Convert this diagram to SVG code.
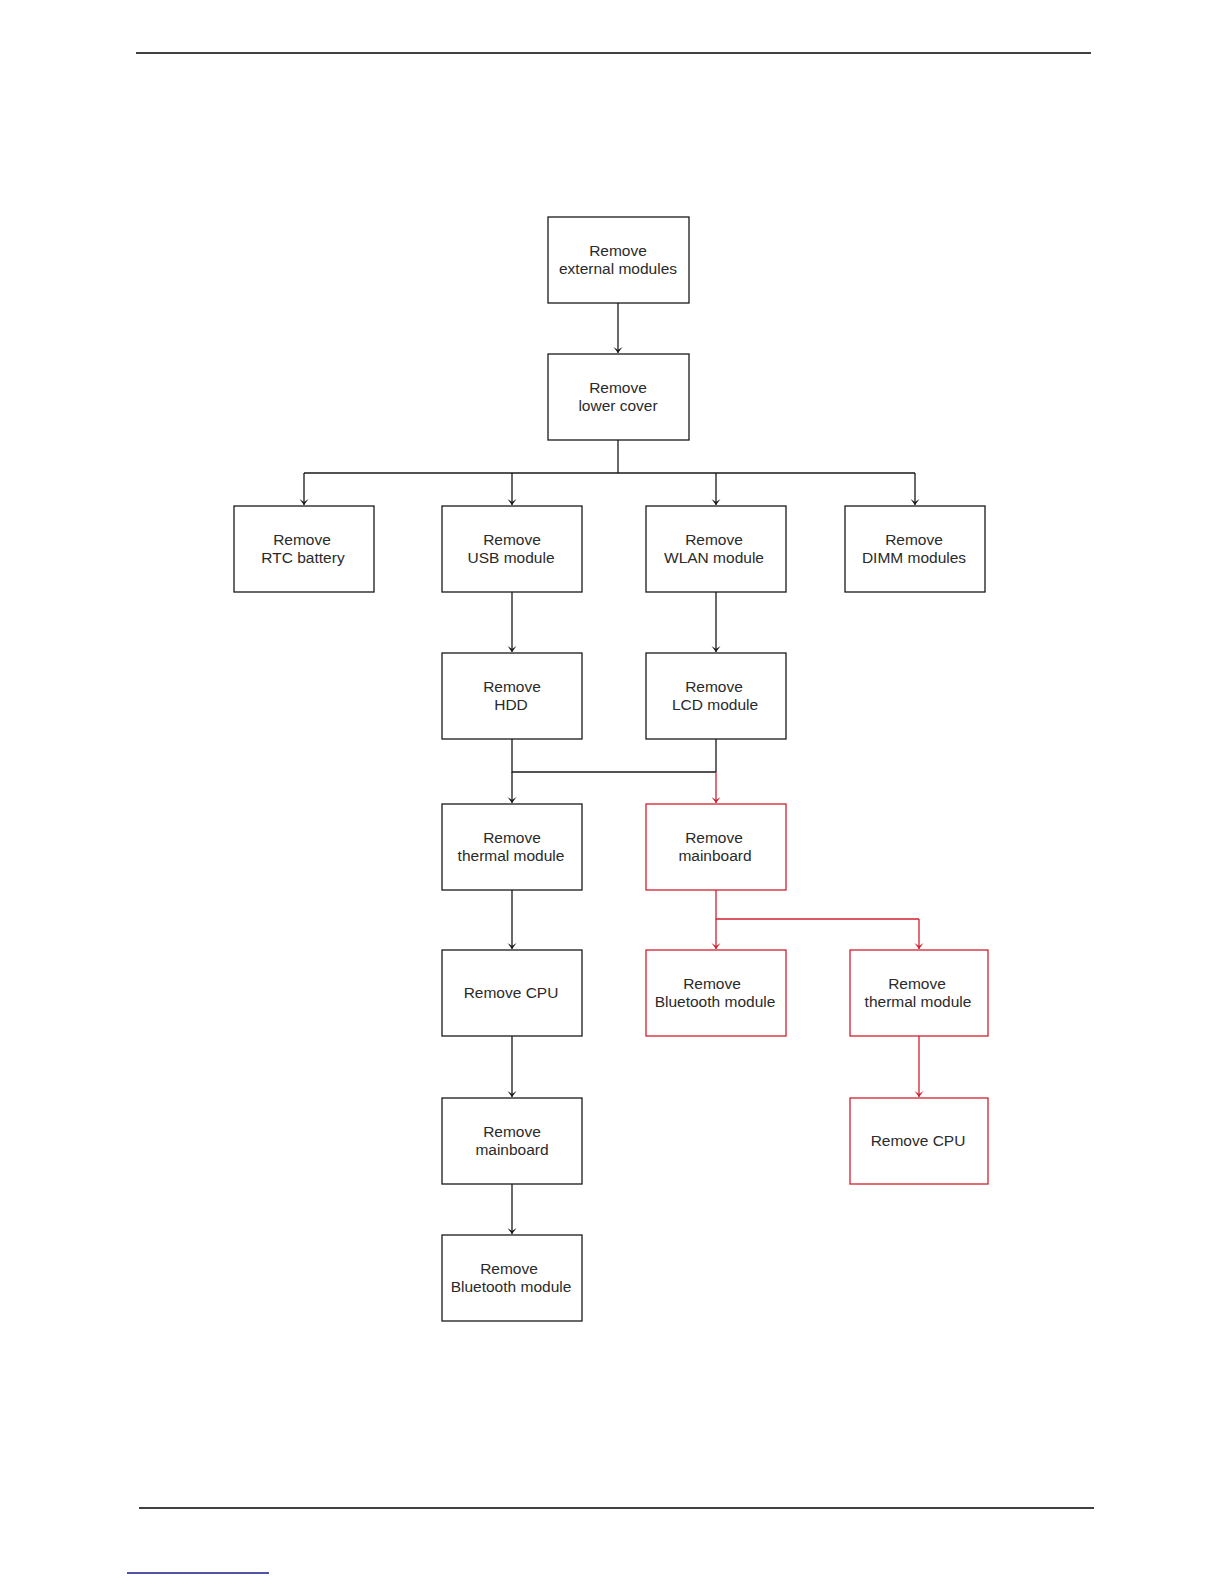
<svg xmlns="http://www.w3.org/2000/svg" width="1224" height="1584" viewBox="0 0 1224 1584">
<style>
.box{fill:#fff;stroke:#1a1a1a;stroke-width:1.3}
.red .box{stroke:#d2202f}
text{font-family:"Liberation Sans",Arial,sans-serif;font-size:15.5px;fill:#2a2a2a;text-anchor:middle}
.c{fill:none;stroke:#1a1a1a;stroke-width:1.3}
.cr{fill:none;stroke:#d2202f;stroke-width:1.3}
</style>
<defs>
<marker id="a" markerWidth="10" markerHeight="10" refX="5" refY="8" orient="0" markerUnits="userSpaceOnUse">
<path d="M0.5,2 L5,8 L9.5,2 L5,5 Z" fill="#1a1a1a"/>
</marker>
<marker id="ar" markerWidth="10" markerHeight="10" refX="5" refY="8" orient="0" markerUnits="userSpaceOnUse">
<path d="M0.5,2 L5,8 L9.5,2 L5,5 Z" fill="#d2202f"/>
</marker>
</defs>
<rect width="1224" height="1584" fill="#fff"/>
<line x1="136" y1="53" x2="1091" y2="53" stroke="#000" stroke-width="1.5"/>
<line x1="139" y1="1508" x2="1094" y2="1508" stroke="#000" stroke-width="1.5"/>
<line x1="127" y1="1573" x2="269" y2="1573" stroke="#1a1a8c" stroke-width="1.3"/>

<g id="connectors">
<path class="c" d="M618,303 V353" marker-end="url(#a)"/>
<path class="c" d="M618,440 V473 M304,473 H915"/>
<path class="c" d="M304,473 V505" marker-end="url(#a)"/>
<path class="c" d="M512,473 V505" marker-end="url(#a)"/>
<path class="c" d="M716,473 V505" marker-end="url(#a)"/>
<path class="c" d="M915,473 V505" marker-end="url(#a)"/>
<path class="c" d="M512,592 V652" marker-end="url(#a)"/>
<path class="c" d="M716,592 V652" marker-end="url(#a)"/>
<path class="c" d="M512,739 V772 H716 M716,739 V772"/>
<path class="c" d="M512,772 V803" marker-end="url(#a)"/>
<path class="cr" d="M716,772 V803" marker-end="url(#ar)"/>
<path class="c" d="M512,890 V949" marker-end="url(#a)"/>
<path class="c" d="M512,1036 V1097" marker-end="url(#a)"/>
<path class="c" d="M512,1184 V1234" marker-end="url(#a)"/>
<path class="cr" d="M716,890 V919 H919"/>
<path class="cr" d="M716,919 V949" marker-end="url(#ar)"/>
<path class="cr" d="M919,919 V949" marker-end="url(#ar)"/>
<path class="cr" d="M919,1036 V1097" marker-end="url(#ar)"/>
</g>

<g id="n_external"><rect class="box" x="548" y="217" width="141" height="86"/><text x="618" y="256">Remove</text><text x="618" y="274">external modules</text></g>
<g id="n_lower"><rect class="box" x="548" y="354" width="141" height="86"/><text x="618" y="393">Remove</text><text x="618" y="411">lower cover</text></g>
<g id="n_rtc"><rect class="box" x="234" y="506" width="140" height="86"/><text x="302" y="545">Remove</text><text x="303" y="563">RTC battery</text></g>
<g id="n_usb"><rect class="box" x="442" y="506" width="140" height="86"/><text x="512" y="545">Remove</text><text x="511" y="563">USB module</text></g>
<g id="n_wlan"><rect class="box" x="646" y="506" width="140" height="86"/><text x="714" y="545">Remove</text><text x="714" y="563">WLAN module</text></g>
<g id="n_dimm"><rect class="box" x="845" y="506" width="140" height="86"/><text x="914" y="545">Remove</text><text x="914" y="563">DIMM modules</text></g>
<g id="n_hdd"><rect class="box" x="442" y="653" width="140" height="86"/><text x="512" y="692">Remove</text><text x="511" y="710">HDD</text></g>
<g id="n_lcd"><rect class="box" x="646" y="653" width="140" height="86"/><text x="714" y="692">Remove</text><text x="715" y="710">LCD module</text></g>
<g id="n_thermal1"><rect class="box" x="442" y="804" width="140" height="86"/><text x="512" y="843">Remove</text><text x="511" y="861">thermal module</text></g>
<g id="n_mainboard2" class="red"><rect class="box" x="646" y="804" width="140" height="86"/><text x="714" y="843">Remove</text><text x="715" y="861">mainboard</text></g>
<g id="n_cpu1"><rect class="box" x="442" y="950" width="140" height="86"/><text x="511" y="998">Remove CPU</text></g>
<g id="n_bt2" class="red"><rect class="box" x="646" y="950" width="140" height="86"/><text x="712" y="989">Remove</text><text x="715" y="1007">Bluetooth module</text></g>
<g id="n_thermal2" class="red"><rect class="box" x="850" y="950" width="138" height="86"/><text x="917" y="989">Remove</text><text x="918" y="1007">thermal module</text></g>
<g id="n_mainboard1"><rect class="box" x="442" y="1098" width="140" height="86"/><text x="512" y="1137">Remove</text><text x="512" y="1155">mainboard</text></g>
<g id="n_cpu2" class="red"><rect class="box" x="850" y="1098" width="138" height="86"/><text x="918" y="1146">Remove CPU</text></g>
<g id="n_bt1"><rect class="box" x="442" y="1235" width="140" height="86"/><text x="509" y="1274">Remove</text><text x="511" y="1292">Bluetooth module</text></g>
</svg>
